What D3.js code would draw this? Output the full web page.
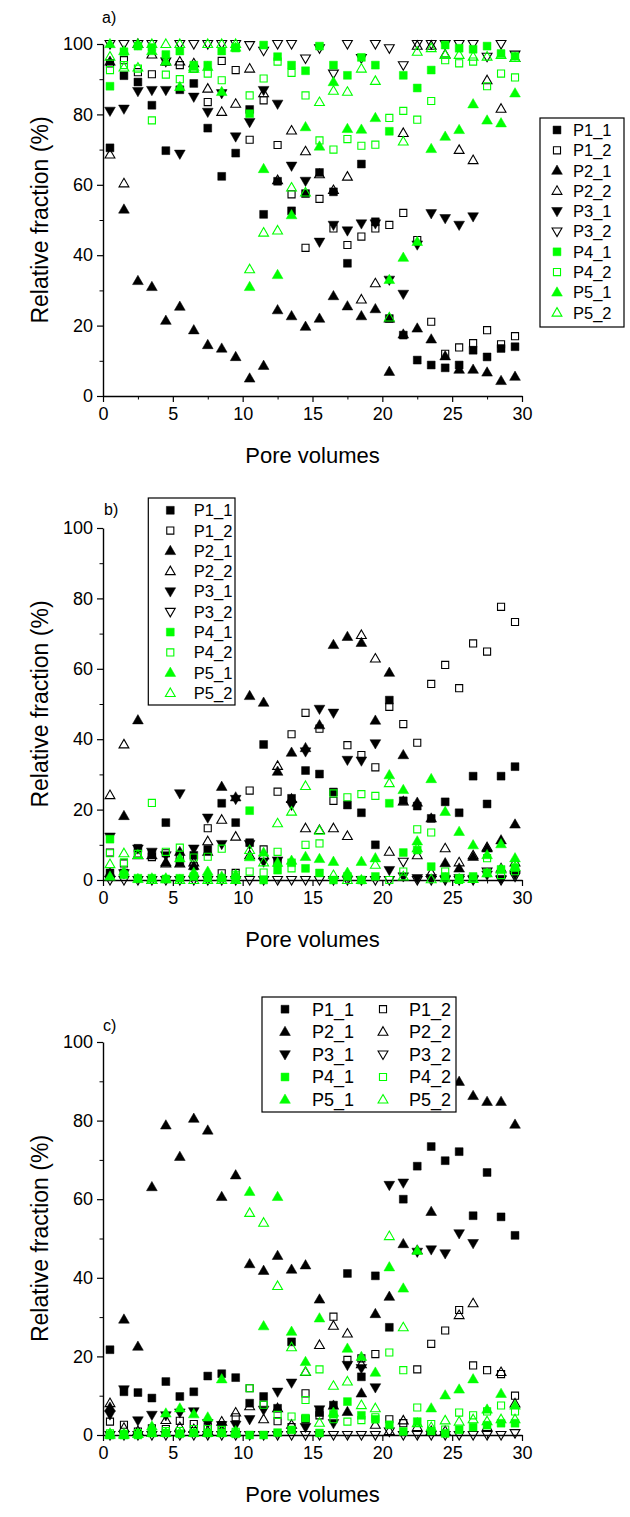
<!DOCTYPE html>
<html>
<head>
<meta charset="utf-8">
<script src="https://cdn.jsdelivr.net/npm/d3@7"></script>
<style>
  html, body { margin: 0; padding: 0; background: #ffffff; }
  svg { display: block; }
</style>
</head>
<body>
<svg id="fig" width="630" height="1517"></svg>
<script>
// Pore-volume positions of the samples (one sample per pore volume)
const poreVolumes = d3.range(30).map(i => i + 0.5);

const seriesNames = ["P1_1", "P1_2", "P2_1", "P2_2", "P3_1", "P3_2", "P4_1", "P4_2", "P5_1", "P5_2"];
const xTickValues = [0, 5, 10, 15, 20, 25, 30];
const yTickValues = [0, 20, 40, 60, 80, 100];

// ---- panel a) relative fractions (%)
const a_P1_1 = [70.5, 91, 89.2, 82.6, 69.7, 87, 88.8, 76.1, 62.4, 69, 81.4, 51.6, 61, 52.6, 57.5, 63.5, 58, 37.7, 65.9, 49.5, 22, 17.3, 10.2, 8.8, 8, 8.8, 13, 11.1, 13.5, 14];
const a_P1_2 = [94.5, 95.4, 92, 91.4, 95, 94, 93, 83.5, 95.2, 92.6, 72.8, 84, 71.3, 57.3, 42.1, 56, 47.6, 42.9, 45.3, 47.6, 48.6, 52, 44.3, 21.1, 12, 13.8, 15, 18.7, 14.7, 17];
const a_P2_1 = [95, 53, 32.7, 31, 21.4, 25.4, 18.7, 14.5, 13.5, 11.1, 5, 8.6, 24.4, 22.7, 19.7, 22, 28.4, 25.5, 22.7, 24.7, 6.9, 17.5, 19.2, 16.1, 11.3, 7.5, 7.5, 6.7, 4.3, 5.5];
const a_P2_2 = [68.6, 60.4, 100, 97, 95, 95, 94.5, 87.3, 80.7, 83, 93, 86, 61.3, 75.4, 69.5, 63, 58.5, 62.3, 27.4, 32, 22, 74.7, 99.5, 99.5, 97, 69.9, 67, 89.7, 81.6, 96];
const a_P3_1 = [81, 81.6, 86.6, 86.9, 86.9, 68.8, 85, 80.7, 86, 73.7, 77.8, 86.9, 83, 65.4, 61.1, 43.8, 48.6, 47, 49, 49, 33, 29, 43, 51.9, 50.5, 48.6, 51, null, null, null];
const a_P3_2 = [100, 100, 100, 100, 95, 100, 100, 100, 100, 100, 99.7, 98.1, 100, 100, 95.9, 98.8, 91.6, 100, 96, 100, 98.8, 94, 100, 100, 100, 100, 100, 96.4, 100, 97];
const a_P4_1 = [88, 97.8, 99.4, 99, 97, 98, 94, 94, 98, 99, 80.2, 99.7, 96.4, 94, 92.4, 99.4, 94, 91.1, 96.2, 94, 75.2, 91.1, 87.5, 92.6, 99.7, 98.8, 98.5, 99.4, 97.3, 96.5];
const a_P4_2 = [92.6, 94, 93, 78.3, 91.3, 90, 93, 91.6, 89.7, 98.8, 85.4, 90.2, 95, 91.8, 85.4, 72.6, 70, 73, 71.1, 71.4, 79, 81, 78.5, 83.8, 95.4, 94.5, 95, 88, 91.6, 90.5];
const a_P5_1 = [100, 98, 100, 98, 95, 87.8, 93.5, 93.5, 86.4, 99, 31, 64.5, 34.4, 51.4, 76.4, 70.9, 89.2, 75.9, 75.7, 79, 33, 39.3, 43.8, 70.2, 73.7, 75.6, 82.9, 78.3, 77.5, 86];
const a_P5_2 = [96.4, 93.3, 93.3, 100, 100, 100, 93, 100, 100, 100, 36, 46.4, 47, 59.2, 57.8, 83.5, 86.7, 86.4, 93, 89.5, 22.3, 72.3, 97.8, 98.8, 96.9, 96.9, 96.4, 96.4, 96.9, 96];

// ---- panel b) relative fractions (%)
const b_P1_1 = [2, 2, 9, 7.6, 16.3, 5, 7, 8.7, 21.8, 16.3, 10.6, 38.5, 5, 23.2, 31.1, 30.1, 25, 21.3, 19.1, 10, 51.1, 22.5, 21, 17.5, 22.2, 19.1, 29.5, 21.6, 29.5, 32.2];
const b_P1_2 = [7.8, 4.7, 7.5, 6.5, 7.6, 7.1, 3.9, 14.7, 1.9, 2, 25.4, 8.7, 25.1, 41.4, 47.5, 43, 22.5, 38.3, 35.5, 32, 49.2, 44.3, 39, 55.7, 61.1, 54.5, 67.2, 64.9, 77.6, 73.3];
const b_P2_1 = [2, 18.2, 45.4, 7, 5, 8, 4, 8, 26.5, 23.5, 52.3, 50.4, 30.8, 36.2, 37.5, 44, 66.8, 69.1, 67.4, 45.3, 58.9, 35.5, 22, 17.5, 4.8, 3.3, 6.6, 9, 11.3, 15.8];
const b_P2_2 = [24.1, 38.5, 7, 0, 4.7, 4.7, 5, 11, 17.1, 12.3, 7, 7, 32.4, 23, 14.7, 14.2, 14.7, 12.5, 69.6, 62.9, 8, 22.3, 7, 2, 9, 5, 7, 9.3, 3.3, 5];
const b_P3_1 = [12.3, 1.9, 8.9, 8, 7, 24.6, 8.9, 17.7, 10.2, 23, 10.2, 5.2, 5.5, 21.3, 36.5, 48.6, 47.5, 34.1, 33.9, 38.8, 2.8, 1, 0.5, 0.5, 0.3, 0.5, 0.3, 1.5, 0.3, 1.5];
const b_P3_2 = [0, 0, 0, 0, 0, 0, 0, 0, 0, 0, 0, 0, 0, 0, 0, 0, 0, 0, 0, 0, 0, 5.2, 0, 0, 0, 0, 0, 2.4, 0, 1];
const b_P4_1 = [11.6, 1.5, 0.5, 0.5, 0.3, 0.5, 1, 0.5, 0.5, 0.3, 19.7, 0, 2.8, 4.9, 3.3, 2, 0, 1, 0, 1, 21.8, 7.8, 8.5, 3.8, 1, 0.5, 1, 2, 3, 3.5];
const b_P4_2 = [7.6, 5, 7.4, 21.9, 8, 9.2, 6.4, 6.6, 8.9, 1.5, 2.4, 2.1, 8, 3.3, 10, 10.4, 24.6, 23.5, 24.4, 23.9, 0, 2.4, 14.4, 13.5, 2.4, 0, 0.5, 6.2, 1.4, 2.5];
const b_P5_1 = [1, 2.4, 0.3, 0.5, 0.5, 6.2, 2.1, 2.4, 1, 1.5, 6.5, 7.8, 4.9, 5.5, 6.6, 6, 5.2, 2.1, 5.2, 6.2, 29.8, 25.6, 11, 28.7, 19.4, 13.7, 9.9, 7.1, 10.2, 6.2];
const b_P5_2 = [4.5, 7.6, 7.1, 0, 0.2, 0, 0, 0, 0, 0, 8.5, 5, 16.1, 19.4, 26.7, 14, 1.4, 0, 0, 4.3, 27.5, 1, 9, 0.2, 0.5, 0.3, 0.3, 1.9, 3, 3.7];

// ---- panel c) relative fractions (%)
const c_P1_1 = [21.7, 11, 10.8, 9.4, 13.6, 9.8, 11, 15, 15.6, 14.6, 8.1, 9.8, 6.8, 23.7, 4, 5.7, 7.6, 41.1, 14.8, 40.5, 27.4, 60, 68.4, 73.4, 69.8, 72.1, 55.8, 66.8, 55.5, 50.8];
const c_P1_2 = [3.4, 2.6, 0.9, 1.7, 1.5, 3.6, 2.8, 2.1, 2.5, 4.5, 11.9, 7.7, 3.5, 2, 10.6, 5, 30.1, 19.1, 19.5, 20.6, 4, 3, 16.7, 23.2, 26.6, 31.8, 17.7, 16.5, 15.5, 10];
const c_P2_1 = [7, 29.4, 22.5, 63.1, 78.8, 70.8, 80.5, 77.5, 60.6, 66.1, 43.5, 41.8, 45.6, 42.1, 43.2, 34.5, 7.5, 5.9, 10.6, 30.8, 35.2, 48.6, 47, 56.8, 84.8, 89.9, 86.3, 84.8, 84.8, 79];
const c_P2_2 = [8.1, 1.8, 1, 0.5, 3.8, 2, 1.5, 1, 3.4, 5.7, 7.3, 4, 6.8, 2.6, 16, 22.9, 27.8, 25.8, 18, 2.6, 1, 3.7, 2, 1, 1, 30.5, 33.5, 2, 16, 8];
const c_P3_1 = [5.2, 11.6, 3.7, 5.1, 5, 5.7, 6, 3, 2.5, 2.6, 4, 6.4, 11, 13.3, 2, 6.5, 3, 17.8, 17, 12.1, 63.6, 64.2, 46.6, 47.2, 46.2, 51.3, 48.8, null, null, null];
const c_P3_2 = [0, 0, 0, 0, 0, 0, 0, 0, 0, 0, 0, 0, 0, 0, 0, 0, 0, 0, 0, 0, 0.9, 0, 0, 0, 0, 0, 0, 0, 0, 0.5];
const c_P4_1 = [0, 0, 0, 0.5, 0.5, 0.3, 0.5, 0.5, 0.5, 0.3, 0, 0, 0.6, 1.3, 4.3, 0.5, 5.3, 8.5, 5, 4, 2.6, 0.9, 3.4, 1, 0.4, 1.3, 2, 2.5, 3, 3];
const c_P4_2 = [0.4, 0.3, 0.5, 0.5, 1, 1, 1.5, 1.5, 1.3, 0.8, 11.9, 7.7, 5.1, 4.7, 8.9, 16.7, 4, 3.4, 3.8, 4.5, 21, 16.5, 7, 2.8, 1.4, 5.7, 5, 6, 7.5, 6];
const c_P5_1 = [0, 0, 0.3, 2.2, 5.5, 6.8, 5.3, 4.5, 14.2, 1, 61.9, 27.7, 60.6, 26.3, 18.6, 29.7, 5.7, 22, 19.9, 15.9, 42.7, 37.3, 46.9, 6.8, 10.1, 11.6, 14.2, 6.5, 10.5, 7.5];
const c_P5_2 = [0.4, 0.3, 0.3, 0.5, 0.5, 0.5, 0.5, 0.5, 0.5, 0.5, 56.5, 54, 37.9, 22.3, 16.1, 3.1, 12.5, 13.6, 7.6, 6.8, 50.6, 27.4, 3, 2, 3.7, 3.4, 4, 3.5, 4, 4];

// ---------------------------------------------------------------------------
const FONT = '"Liberation Sans", Arial, Helvetica, sans-serif';
const BLACK = "#000000";
const GREEN = "#00ff00";

// marker look of every series
const markerStyle = {
  P1_1: { shape: "square", filled: true,  color: BLACK },
  P1_2: { shape: "square", filled: false, color: BLACK },
  P2_1: { shape: "up",     filled: true,  color: BLACK },
  P2_2: { shape: "up",     filled: false, color: BLACK },
  P3_1: { shape: "down",   filled: true,  color: BLACK },
  P3_2: { shape: "down",   filled: false, color: BLACK },
  P4_1: { shape: "square", filled: true,  color: GREEN },
  P4_2: { shape: "square", filled: false, color: GREEN },
  P5_1: { shape: "up",     filled: true,  color: GREEN },
  P5_2: { shape: "up",     filled: false, color: GREEN }
};

function markerPath(st) {
  const type = st.shape === "square" ? d3.symbolSquare : d3.symbolTriangle;
  const size = st.shape === "square" ? (st.filled ? 62 : 50) : (st.filled ? 50 : 42);
  return d3.symbol(type, size)();
}

function drawMarker(g, st, x, y) {
  const rot = st.shape === "down" ? " rotate(180)" : "";
  const dyShift = st.shape === "up" ? 0.6 : (st.shape === "down" ? -0.6 : 0);
  g.append("path")
    .attr("d", markerPath(st))
    .attr("transform", `translate(${x},${y + dyShift})${rot}`)
    .attr("fill", st.filled ? st.color : "none")
    .attr("stroke", st.color)
    .attr("stroke-width", st.filled ? 0.5 : 1.1);
}

const panels = [
  {
    tag: "a)", tagPos: [102, 23],
    xRange: [103, 522], yRange: [396, 44],
    data: { P1_1: a_P1_1, P1_2: a_P1_2, P2_1: a_P2_1, P2_2: a_P2_2, P3_1: a_P3_1,
            P3_2: a_P3_2, P4_1: a_P4_1, P4_2: a_P4_2, P5_1: a_P5_1, P5_2: a_P5_2 },
    legend: { cols: 1, x: 540, y: 118, w: 84, h: 209, row0: 130, dy: 20.3, font: 16.5, symDx: 17, txtDx: 33 }
  },
  {
    tag: "b)", tagPos: [104, 515],
    xRange: [103, 522], yRange: [880, 528],
    data: { P1_1: b_P1_1, P1_2: b_P1_2, P2_1: b_P2_1, P2_2: b_P2_2, P3_1: b_P3_1,
            P3_2: b_P3_2, P4_1: b_P4_1, P4_2: b_P4_2, P5_1: b_P5_1, P5_2: b_P5_2 },
    legend: { cols: 1, x: 148.3, y: 498, w: 86.7, h: 207, row0: 510.3, dy: 20.3, font: 16.5, symDx: 22, txtDx: 45.5 }
  },
  {
    tag: "c)", tagPos: [103, 1031],
    xRange: [103, 522], yRange: [1435, 1042],
    data: { P1_1: c_P1_1, P1_2: c_P1_2, P2_1: c_P2_1, P2_2: c_P2_2, P3_1: c_P3_1,
            P3_2: c_P3_2, P4_1: c_P4_1, P4_2: c_P4_2, P5_1: c_P5_1, P5_2: c_P5_2 },
    legend: { cols: 2, x: 262, y: 997, w: 194, h: 115, row0: 1009.2, dy: 22.6, font: 18,
              symDx: 23, txtDx: 50, col2SymDx: 121, col2TxtDx: 147 }
  }
];

const svg = d3.select("#fig");

panels.forEach(p => {
  const x = d3.scaleLinear().domain([0, 30]).range(p.xRange);
  const y = d3.scaleLinear().domain([0, 100]).range(p.yRange);
  const g = svg.append("g");

  // minor ticks
  g.append("g")
    .attr("transform", `translate(0,${p.yRange[0]})`)
    .call(d3.axisBottom(x).tickValues(d3.range(2.5, 30, 5)).tickSize(3.5).tickFormat(""))
    .call(s => s.select(".domain").remove());
  g.append("g")
    .attr("transform", `translate(${p.xRange[0]},0)`)
    .call(d3.axisLeft(y).tickValues(d3.range(10, 100, 20)).tickSize(3.5).tickFormat(""))
    .call(s => s.select(".domain").remove());

  // major axes
  const ax = g.append("g")
    .attr("transform", `translate(0,${p.yRange[0]})`)
    .call(d3.axisBottom(x).tickValues(xTickValues).tickSize(6).tickSizeOuter(0).tickPadding(5));
  const ay = g.append("g")
    .attr("transform", `translate(${p.xRange[0]},0)`)
    .call(d3.axisLeft(y).tickValues(yTickValues).tickSize(6).tickSizeOuter(0).tickPadding(4));

  [ax, ay].forEach(a => {
    a.select(".domain").attr("stroke-width", 1.4);
    a.selectAll(".tick line").attr("stroke-width", 1.2);
    a.selectAll(".tick text").attr("font-family", FONT).attr("font-size", 18).attr("fill", BLACK);
  });
  g.selectAll("line").attr("stroke", BLACK);

  // axis titles
  const yMid = (p.yRange[0] + p.yRange[1]) / 2;
  g.append("text")
    .attr("transform", `translate(40,${yMid}) rotate(-90)`)
    .attr("text-anchor", "middle").attr("dy", "0.35em")
    .attr("font-family", FONT).attr("font-size", 23)
    .text("Relative fraction (%)");
  g.append("text")
    .attr("x", (p.xRange[0] + p.xRange[1]) / 2).attr("y", p.yRange[0] + 67)
    .attr("text-anchor", "middle")
    .attr("font-family", FONT).attr("font-size", 22)
    .text("Pore volumes");

  // panel tag
  g.append("text")
    .attr("x", p.tagPos[0]).attr("y", p.tagPos[1])
    .attr("font-family", FONT).attr("font-size", 16)
    .text(p.tag);

  // data markers
  const mg = g.append("g");
  seriesNames.forEach(name => {
    const st = markerStyle[name];
    p.data[name].forEach((v, i) => {
      if (v === null || v === undefined) return;
      drawMarker(mg, st, x(poreVolumes[i]), y(v));
    });
  });

  // legend
  const L = p.legend;
  const lg = g.append("g");
  lg.append("rect")
    .attr("x", L.x).attr("y", L.y).attr("width", L.w).attr("height", L.h)
    .attr("fill", "#ffffff").attr("stroke", BLACK).attr("stroke-width", 1.2);
  seriesNames.forEach((name, k) => {
    let row, symX, txtX;
    if (L.cols === 1) {
      row = k; symX = L.x + L.symDx; txtX = L.x + L.txtDx;
    } else {
      row = Math.floor(k / 2);
      const second = k % 2 === 1;
      symX = L.x + (second ? L.col2SymDx : L.symDx);
      txtX = L.x + (second ? L.col2TxtDx : L.txtDx);
    }
    const ry = L.row0 + row * L.dy;
    drawMarker(lg, markerStyle[name], symX, ry);
    lg.append("text")
      .attr("x", txtX).attr("y", ry).attr("dy", "0.36em")
      .attr("font-family", FONT).attr("font-size", L.font)
      .text(name);
  });
});
</script>
</body>
</html>
